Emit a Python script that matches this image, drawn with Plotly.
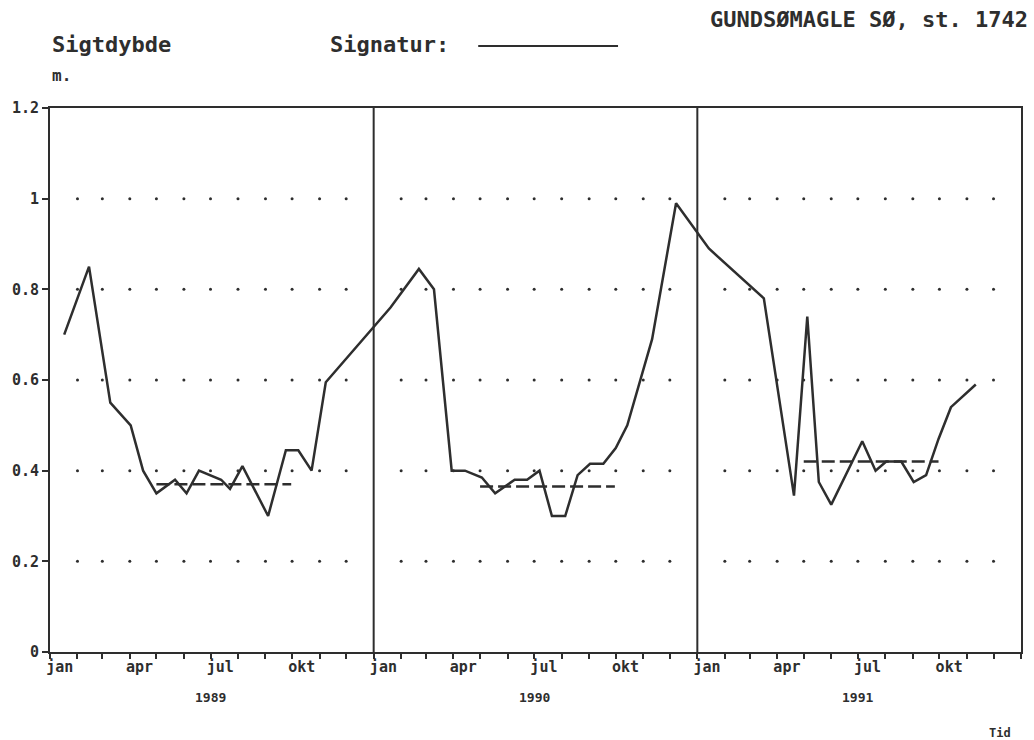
import plotly.graph_objects as go

# ---- data ----
sample_dates = [
    "1989-01-17", "1989-02-14", "1989-03-10", "1989-04-02", "1989-04-16", "1989-05-01",
    "1989-05-22", "1989-06-04", "1989-06-18", "1989-07-13", "1989-07-23", "1989-08-06",
    "1989-09-04", "1989-09-24", "1989-10-08", "1989-10-23", "1989-11-08",
    "1990-01-20", "1990-02-21", "1990-03-10", "1990-03-30", "1990-04-14", "1990-05-03",
    "1990-05-18", "1990-06-09", "1990-06-23", "1990-07-07", "1990-07-21", "1990-08-05",
    "1990-08-19", "1990-09-02", "1990-09-17", "1990-10-01", "1990-10-14", "1990-11-11",
    "1990-12-08",
    "1991-01-14", "1991-03-17", "1991-04-20", "1991-05-05", "1991-05-18", "1991-06-01",
    "1991-07-06", "1991-07-21", "1991-08-02", "1991-08-19", "1991-09-02", "1991-09-16",
    "1991-09-30", "1991-10-14", "1991-11-11",
]
sigtdybde = [
    0.70, 0.85, 0.55, 0.50, 0.40, 0.35, 0.38, 0.35, 0.40, 0.38, 0.36, 0.41,
    0.30, 0.445, 0.445, 0.40, 0.595,
    0.76, 0.845, 0.80, 0.40, 0.40, 0.385, 0.35, 0.38, 0.38, 0.40, 0.30, 0.30,
    0.39, 0.415, 0.415, 0.45, 0.50, 0.69, 0.99,
    0.89, 0.78, 0.345, 0.74, 0.375, 0.325, 0.465, 0.40, 0.42, 0.42, 0.375, 0.39,
    0.47, 0.54, 0.59,
]

years = [1989, 1990, 1991]
summer_start = ["1989-05-01", "1990-05-01", "1991-05-01"]
summer_end = ["1989-09-30", "1990-09-30", "1991-09-30"]
summer_mean = [0.37, 0.365, 0.42]

grid_levels = [0.2, 0.4, 0.6, 0.8, 1.0]
y_ticks = [0, 0.2, 0.4, 0.6, 0.8, 1.0, 1.2]
y_ticktext = ["0", "0.2", "0.4", "0.6", "0.8", "1", "1.2"]
month_labels = ["jan", "apr", "jul", "okt"]
label_months = [1, 4, 7, 10]

INK = "#2e2e2e"
FONT = "DejaVu Sans Mono"

fig = go.Figure()

# dotted grid: a dot at each month start (feb..dec) on every grid level
gx, gy = [], []
for yr in years:
    for m in range(2, 13):
        for lv in grid_levels:
            gx.append(f"{yr}-{m:02d}-01")
            gy.append(lv)
fig.add_trace(go.Scatter(x=gx, y=gy, mode="markers",
                         marker=dict(size=3, color=INK), hoverinfo="skip",
                         showlegend=False))

# summer means (dashed)
for s, e, v in zip(summer_start, summer_end, summer_mean):
    fig.add_trace(go.Scatter(x=[s, e], y=[v, v], mode="lines",
                             line=dict(color=INK, width=2.5, dash="13px,5px"),
                             showlegend=False))

# main series
fig.add_trace(go.Scatter(x=sample_dates, y=sigtdybde, mode="lines",
                         line=dict(color=INK, width=2.5), showlegend=False))

# year separators
for yr in years[1:]:
    fig.add_shape(type="line", x0=f"{yr}-01-01", x1=f"{yr}-01-01", xref="x",
                  y0=0, y1=1, yref="paper", line=dict(color=INK, width=2))

# x ticks
tick_vals = [f"{yr}-{m:02d}-12" for yr in years for m in label_months]
tick_text = [lab for yr in years for lab in month_labels]
minor_vals = [f"{yr}-{m:02d}-01" for yr in years for m in range(1, 13)] + ["1992-01-01"]

fig.update_xaxes(
    type="date", range=["1989-01-01", "1992-01-01"],
    tickvals=tick_vals, ticktext=tick_text, ticks="",
    tickfont=dict(family=FONT, size=15, color=INK, weight="bold"),
    minor=dict(tickvals=minor_vals, ticks="outside", ticklen=5, tickwidth=2,
               tickcolor=INK, showgrid=False),
    showgrid=False, zeroline=False,
    showline=True, linecolor=INK, linewidth=2, mirror=True,
)
fig.update_yaxes(
    range=[0, 1.2], tickvals=y_ticks, ticktext=y_ticktext,
    ticks="outside", ticklen=6, tickwidth=2, tickcolor=INK,
    tickfont=dict(family=FONT, size=15, color=INK, weight="bold"),
    showgrid=False, zeroline=False,
    showline=True, linecolor=INK, linewidth=2, mirror=True,
)

ann_font = dict(family=FONT, color=INK, weight="bold")
annotations = [
    dict(text="GUNDSØMAGLE SØ, st. 1742", x=1.009, y=1.162, xanchor="right",
         yanchor="middle", font=dict(size=22, **ann_font)),
    dict(text="Sigtdybde", x=0.0, y=1.116, xanchor="left", yanchor="middle",
         font=dict(size=22, **ann_font)),
    dict(text="Signatur:", x=0.286, y=1.116, xanchor="left", yanchor="middle",
         font=dict(size=22, **ann_font)),
    dict(text="m.", x=0.0, y=1.059, xanchor="left", yanchor="middle",
         font=dict(size=16, **ann_font)),
    dict(text="Tid", x=0.978, y=-0.149, xanchor="center", yanchor="middle",
         font=dict(size=12, **ann_font)),
]
for yr in years:
    annotations.append(dict(text=str(yr), x=f"{yr}-07-01", xref="x", y=-0.083,
                            yref="paper", xanchor="center", yanchor="middle",
                            showarrow=False, font=dict(size=13, **ann_font)))
for a in annotations:
    a.setdefault("xref", "paper")
    a.setdefault("yref", "paper")
    a["showarrow"] = False

fig.add_shape(type="line", xref="paper", yref="paper", x0=0.441, x1=0.585,
              y0=1.114, y1=1.114, line=dict(color=INK, width=2))

fig.update_layout(
    width=1034, height=740,
    margin=dict(l=50, r=13, t=108, b=88),
    paper_bgcolor="white", plot_bgcolor="white",
    annotations=annotations,
    showlegend=False,
)

fig.write_html("out.html")
